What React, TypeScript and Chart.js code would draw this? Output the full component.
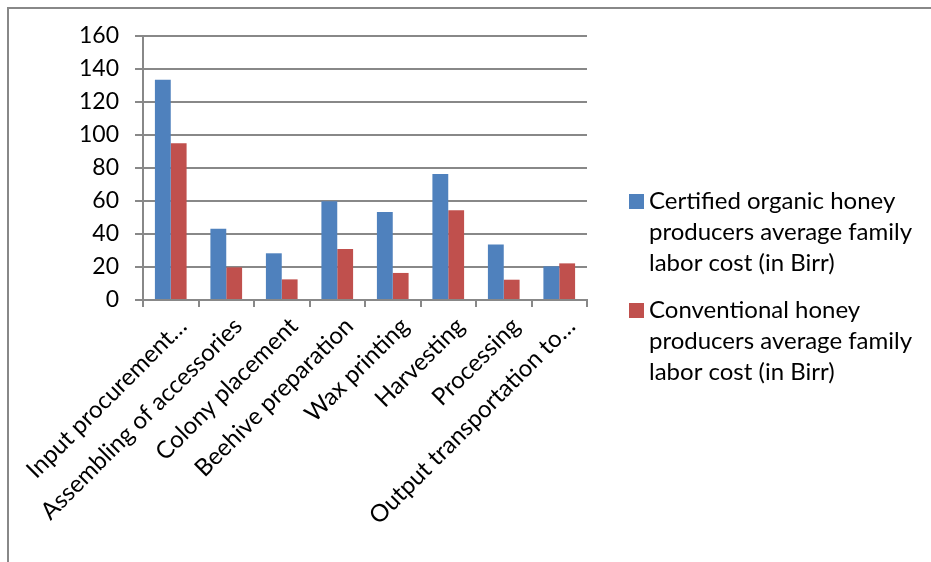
import React, { useEffect, useRef } from "react";
import { Chart, registerables } from "chart.js";

Chart.register(...registerables);

const categories = [
  "Input procurement…",
  "Assembling of accessories",
  "Colony placement",
  "Beehive preparation",
  "Wax printing",
  "Harvesting",
  "Processing",
  "Output transportation to…",
];
const certifiedValues = [133.5, 43.2, 28.3, 59.8, 53.3, 76.4, 33.7, 20.4];
const conventionalValues = [95.0, 19.8, 12.5, 30.9, 16.4, 54.4, 12.3, 22.2];
const certifiedLabel = ["Certified organic honey", "producers average family", "labor cost (in Birr)"];
const conventionalLabel = ["Conventional honey", "producers average family", "labor cost (in Birr)"];
const yMin = 0;
const yMax = 160;
const yStep = 20;

const FONT = "Lato, 'Open Sans', sans-serif";
const FS = 24;
const FS_Y = 23;
const GRID = "#888888";

const framePlugin = {
  id: "frame",
  beforeDraw(chart: any) {
    const ctx = chart.ctx;
    ctx.save();
    ctx.fillStyle = "#ffffff";
    ctx.fillRect(0, 0, chart.width, chart.height);
    ctx.fillStyle = GRID;
    ctx.fillRect(7, 7, chart.width - 7, 2);
    ctx.fillRect(7, 7, 2, chart.height - 7);
    ctx.restore();
  },
};

const legendPlugin = {
  id: "customLegend",
  afterDraw(chart: any) {
    const ctx = chart.ctx;
    const ca = chart.chartArea;
    const x0 = ca.right + 42;
    let base = ca.top + 173;
    ctx.save();
    ctx.font = `${FS}px ${FONT}`;
    ctx.textBaseline = "alphabetic";
    ctx.textAlign = "left";
    chart.data.datasets.forEach((ds: any) => {
      const lines: string[] = ds.legendLines;
      ctx.fillStyle = ds.backgroundColor;
      ctx.fillRect(x0, base - 15, 15, 15);
      ctx.fillStyle = "#000000";
      lines.forEach((ln, j) => ctx.fillText(ln, x0 + 20, base + j * 31));
      base += lines.length * 31 + 16;
    });
    ctx.restore();
  },
};

export default function App() {
  const ref = useRef<HTMLCanvasElement | null>(null);
  useEffect(() => {
    if (!ref.current) return;
    const chart = new Chart(ref.current, {
      type: "bar",
      data: {
        labels: categories,
        datasets: [
          {
            label: certifiedLabel.join(" "),
            legendLines: certifiedLabel,
            data: certifiedValues,
            backgroundColor: "#4F81BD",
            categoryPercentage: 0.571,
            barPercentage: 1.0,
          } as any,
          {
            label: conventionalLabel.join(" "),
            legendLines: conventionalLabel,
            data: conventionalValues,
            backgroundColor: "#C0504D",
            categoryPercentage: 0.571,
            barPercentage: 1.0,
          } as any,
        ],
      },
      options: {
        responsive: false,
        animation: false,
        layout: { padding: { left: 0, top: 36, right: 344, bottom: 0 } },
        plugins: {
          legend: { display: false },
          tooltip: { enabled: false },
          title: { display: false },
        },
        scales: {
          x: {
            afterFit(scale: any) {
              scale.height = 262;
            },
            grid: {
              display: true,
              drawOnChartArea: false,
              drawTicks: true,
              tickLength: 7,
              color: GRID,
              lineWidth: 2,
              offset: true,
            },
            border: { display: true, color: GRID, width: 2 },
            ticks: {
              autoSkip: false,
              maxRotation: 45,
              minRotation: 45,
              padding: 5,
              labelOffset: 12,
              color: "#000000",
              font: { family: FONT, size: FS },
            },
          },
          y: {
            min: yMin,
            max: yMax,
            afterFit(scale: any) {
              scale.width = 143;
            },
            ticks: {
              stepSize: yStep,
              padding: 16,
              color: "#000000",
              font: { family: FONT, size: FS_Y },
            },
            grid: {
              color: GRID,
              lineWidth: 2,
              tickLength: 8,
              drawTicks: true,
            },
            border: { display: true, color: GRID, width: 2 },
          },
        },
      },
      plugins: [framePlugin, legendPlugin],
    });
    return () => chart.destroy();
  }, []);
  return (
    <div style={{ position: "absolute", left: 0, top: 0, width: 931, height: 562 }}>
      <canvas ref={ref} width={931} height={562} style={{ display: "block" }} />
    </div>
  );
}
